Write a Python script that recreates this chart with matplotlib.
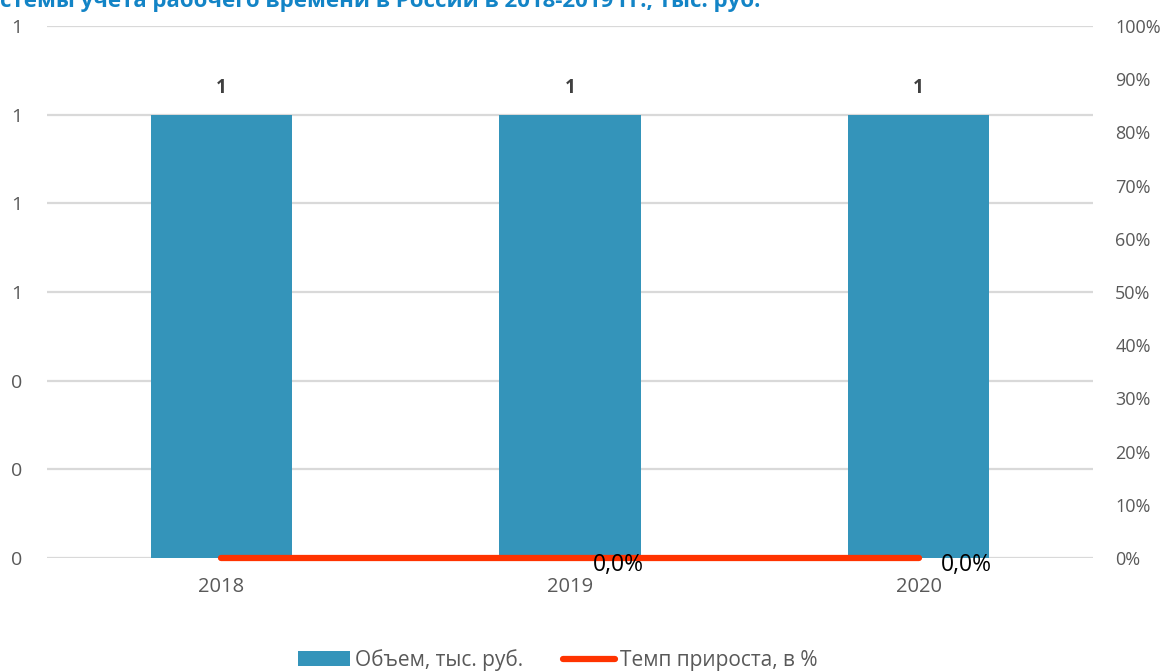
import numpy as np
import matplotlib.pyplot as plt
from matplotlib.ticker import FuncFormatter

plt.rcParams['font.family'] = ['Open Sans', 'DejaVu Sans']

years = ['2018', '2019', '2020']
volume = [1, 1, 1]            # Объем, тыс. руб.
growth = [0.0, 0.0, 0.0]      # Темп прироста, в %
title = 'стемы учета рабочего времени в России в 2018-2019 гг., тыс. руб.'

bar_color = '#3494BA'
line_color = '#FF3300'
text_color = '#595959'

fig = plt.figure(figsize=(11.72, 6.71), dpi=100)
ax = fig.add_axes([0.0401, 0.1684, 0.8925, 0.7929])
ax2 = ax.twinx()

x = np.arange(len(years))
bars = ax.bar(x, volume, width=0.405, color=bar_color, zorder=2, label='Объем, тыс. руб.')
ax.set_xlim(-0.5, len(years) - 0.5)
ax.set_ylim(0, 1.2)
ax.set_yticks(np.arange(0, 1.21, 0.2))
ax.yaxis.set_major_formatter(FuncFormatter(lambda v, p: '%d' % round(v)))
ax.grid(axis='y', color='#D9D9D9', linewidth=1.6, zorder=0)
ax.set_axisbelow(True)
ax.set_xticks(x)
ax.set_xticklabels(years)

for i, v in enumerate(volume):
    ax.text(x[i], v + 0.06, '%d' % v, ha='center', va='center',
            fontsize=13.5, fontweight='bold', color='#404040')

ln, = ax2.plot(x, growth, color=line_color, linewidth=4.5, solid_capstyle='round',
               zorder=3, label='Темп прироста, в %', clip_on=False)
ax2.set_ylim(0, 1.0)
ax2.set_yticks(np.arange(0, 1.01, 0.1))
ax2.yaxis.set_major_formatter(FuncFormatter(lambda v, p: '%d%%' % round(v * 100)))
for i in range(1, len(years)):
    ax2.text(x[i] + 0.065, growth[i] - 0.014, ('%.1f%%' % (growth[i] * 100)).replace('.', ','),
             ha='left', va='center', fontsize=16.5, color='black')

for a in (ax, ax2):
    for s in a.spines.values():
        s.set_visible(False)
    a.tick_params(length=0, colors=text_color)
ax.tick_params(axis='x', labelsize=14.5, pad=14)
ax.tick_params(axis='y', labelsize=14, pad=18)
ax2.tick_params(axis='y', labelsize=13, pad=16)
for lab in ax2.get_yticklabels():
    lab.set_horizontalalignment('left')

fig.text(0.0, 1 - 7 / 671, title, ha='left', va='baseline', fontsize=16, fontweight='bold',
         color='#1384C6')

fig.legend(handles=[bars, ln], loc='center', ncol=2, frameon=False,
           bbox_to_anchor=(0.4757, 1 - 660 / 671), fontsize=15, handlelength=2.5,
           handletextpad=0.25, columnspacing=1.9, labelcolor=text_color)

fig.savefig('out.png', dpi=100)
